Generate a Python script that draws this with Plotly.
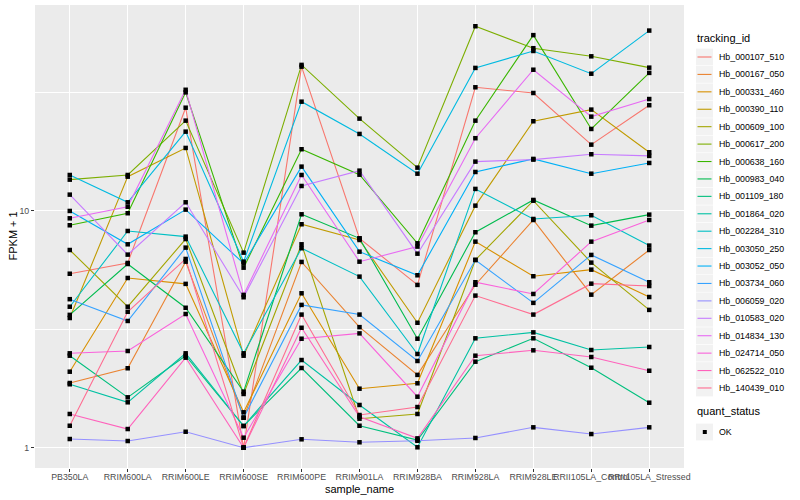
import plotly.graph_objects as go

# ---------------- data ----------------
samples = ["PB350LA", "RRIM600LA", "RRIM600LE", "RRIM600SE", "RRIM600PE",
           "RRIM901LA", "RRIM928BA", "RRIM928LA", "RRIM928LE",
           "RRII105LA_Control", "RRII105LA_Stressed"]

tracking_ids = ["Hb_000107_510", "Hb_000167_050", "Hb_000331_460", "Hb_000390_110",
                "Hb_000609_100", "Hb_000617_200", "Hb_000638_160", "Hb_000983_040",
                "Hb_001109_180", "Hb_001864_020", "Hb_002284_310", "Hb_003050_250",
                "Hb_003052_050", "Hb_003734_060", "Hb_006059_020", "Hb_010583_020",
                "Hb_014834_130", "Hb_024714_050", "Hb_062522_010", "Hb_140439_010"]

# FPKM + 1 per sample (order of `samples`)
hb_000107_510 = [5.43, 6.03, 27.3, 1.0, 40.7, 7.66, 4.87, 33.3, 31.5, 19.06, 27.97]
hb_000167_050 = [1.876, 2.165, 6.107, 1.339, 6.09, 3.23, 2.03, 4.88, 9.16, 4.43, 6.84]
hb_000331_460 = [2.094, 5.21, 4.92, 1.411, 4.49, 1.775, 1.871, 7.42, 5.30, 5.65, 4.33]
hb_000390_110 = [3.53, 13.96, 18.46, 2.447, 8.785, 7.54, 3.37, 10.53, 23.93, 26.8, 17.7]
hb_000609_100 = [6.84, 3.94, 7.61, 1.686, 7.23, 1.326, 1.388, 6.21, 11.05, 6.05, 3.82]
hb_000617_200 = [13.56, 14.19, 24.07, 6.666, 41.4, 24.55, 15.24, 60.3, 48.7, 45.0, 40.3]
hb_000638_160 = [8.70, 9.78, 31.7, 5.76, 18.23, 14.23, 7.30, 24.07, 55.3, 22.2, 38.3]
hb_000983_040 = [3.64, 5.97, 3.90, 1.724, 9.68, 7.66, 2.886, 8.13, 11.13, 8.67, 9.65]
hb_001109_180 = [2.447, 1.632, 2.447, 1.235, 2.171, 1.238, 1.077, 2.308, 2.898, 2.177, 1.549]
hb_001864_020 = [1.853, 1.555, 2.504, 1.235, 2.346, 1.515, 1.004, 2.898, 3.07, 2.586, 2.663]
hb_002284_310 = [3.94, 8.23, 7.79, 2.504, 6.96, 5.28, 2.488, 12.39, 9.25, 9.59, 7.14]
hb_003050_250 = [14.19, 10.88, 21.63, 6.107, 28.95, 21.15, 14.37, 40.2, 47.4, 38.0, 57.8]
hb_003052_050 = [10.0, 7.23, 10.13, 6.0, 15.39, 6.73, 5.35, 14.61, 16.59, 14.37, 15.95]
hb_003734_060 = [4.24, 3.43, 7.00, 1.339, 4.01, 3.65, 2.324, 6.21, 4.09, 6.52, 5.00]
hb_006059_020 = [1.088, 1.067, 1.168, 1.0, 1.085, 1.054, 1.070, 1.099, 1.219, 1.142, 1.219]
hb_010583_020 = [11.72, 6.54, 10.88, 4.32, 12.75, 14.80, 6.60, 16.16, 16.48, 17.36, 17.08]
hb_014834_130 = [9.31, 10.42, 32.5, 4.42, 14.19, 6.107, 7.07, 20.29, 39.5, 25.03, 29.7]
hb_024714_050 = [2.504, 2.561, 3.67, 1.102, 2.886, 3.04, 1.642, 5.00, 4.46, 7.42, 9.16]
hb_062522_010 = [1.388, 1.199, 2.40, 1.0, 3.21, 1.352, 1.095, 2.447, 2.578, 2.416, 2.114]
hb_140439_010 = [1.238, 3.75, 6.27, 1.0, 3.65, 1.374, 1.485, 4.39, 3.65, 4.93, 4.82]

quant_status = ["OK"]

y_tick_vals = [1, 10]
y_tick_text = ["1", "10"]
y_minor_vals = [3.1623, 31.623]

# ---------------- style ----------------
colors = ["#F8766D", "#EA8331", "#D89000", "#C09B00", "#A3A500", "#7CAE00", "#39B600",
          "#00BB4E", "#00BF7D", "#00C1A3", "#00BFC4", "#00BAE0", "#00B0F6", "#35A2FF",
          "#9590FF", "#C77CFF", "#E76BF3", "#FA62DB", "#FF62BC", "#FF6C91"]

series_values = [hb_000107_510, hb_000167_050, hb_000331_460, hb_000390_110,
                 hb_000609_100, hb_000617_200, hb_000638_160, hb_000983_040,
                 hb_001109_180, hb_001864_020, hb_002284_310, hb_003050_250,
                 hb_003052_050, hb_003734_060, hb_006059_020, hb_010583_020,
                 hb_014834_130, hb_024714_050, hb_062522_010, hb_140439_010]

FONT = "Liberation Sans, Arial, Helvetica, sans-serif"
W, H = 800, 500
PL, PR, PT, PB = 35, 684, 5, 468  # panel pixel box


def px(x):
    return (x - PL) / (PR - PL)


def py(y):
    return (PB - y) / (PB - PT)


fig = go.Figure()

for tid, vals, col in zip(tracking_ids, series_values, colors):
    fig.add_trace(go.Scatter(
        x=samples, y=vals, mode="lines", name=tid,
        line=dict(color=col, width=1.1), showlegend=False, hoverinfo="skip"))

all_x, all_y = [], []
for vals in series_values:
    all_x += samples
    all_y += vals
fig.add_trace(go.Scatter(
    x=all_x, y=all_y, mode="markers", name=quant_status[0],
    marker=dict(symbol="square", size=4.5, color="black", line=dict(width=0)),
    showlegend=False, hoverinfo="skip"))

shapes = []
annotations = []

# axis titles
annotations.append(dict(text="sample_name", xref="paper", yref="paper",
                        x=0.5, y=py(488.5), xanchor="center", yanchor="middle",
                        showarrow=False, font=dict(family=FONT, size=11, color="black")))
annotations.append(dict(text="FPKM + 1", xref="paper", yref="paper",
                        x=px(12), y=0.5, xanchor="center", yanchor="middle",
                        textangle=-90, showarrow=False,
                        font=dict(family=FONT, size=11, color="black")))

# legend: tracking_id
annotations.append(dict(text="tracking_id", xref="paper", yref="paper",
                        x=px(695), y=py(38), xanchor="left", yanchor="middle",
                        showarrow=False, font=dict(family=FONT, size=11, color="black")))
step = 17.42
for i, (tid, col) in enumerate(zip(tracking_ids, colors)):
    cy = 57 + i * step
    shapes.append(dict(type="rect", xref="paper", yref="paper",
                       x0=px(696), x1=px(713), y0=py(cy + 8.4), y1=py(cy - 8.4),
                       fillcolor="#F2F2F2", line=dict(width=0), layer="above"))
    shapes.append(dict(type="line", xref="paper", yref="paper",
                       x0=px(697.5), x1=px(711.5), y0=py(cy), y1=py(cy),
                       line=dict(color=col, width=1.1), layer="above"))
    annotations.append(dict(text=tid, xref="paper", yref="paper",
                            x=px(717), y=py(cy), xanchor="left", yanchor="middle",
                            showarrow=False,
                            font=dict(family=FONT, size=8.8, color="black")))

# legend: quant_status
annotations.append(dict(text="quant_status", xref="paper", yref="paper",
                        x=px(695), y=py(411), xanchor="left", yanchor="middle",
                        showarrow=False, font=dict(family=FONT, size=11, color="black")))
cy = 432
shapes.append(dict(type="rect", xref="paper", yref="paper",
                   x0=px(696), x1=px(713), y0=py(cy + 8.4), y1=py(cy - 8.4),
                   fillcolor="#F2F2F2", line=dict(width=0), layer="above"))
shapes.append(dict(type="rect", xref="paper", yref="paper",
                   x0=px(702.8), x1=px(706.8), y0=py(cy + 2), y1=py(cy - 2),
                   fillcolor="black", line=dict(width=0), layer="above"))
annotations.append(dict(text=quant_status[0], xref="paper", yref="paper",
                        x=px(717), y=py(cy), xanchor="left", yanchor="middle",
                        showarrow=False, font=dict(family=FONT, size=8.8, color="black")))

fig.update_layout(
    width=W, height=H,
    margin=dict(l=PL, r=W - PR, t=PT, b=H - PB, pad=0),
    paper_bgcolor="white", plot_bgcolor="#EBEBEB",
    font=dict(family=FONT, size=8.8, color="#4D4D4D"),
    showlegend=False,
    shapes=shapes, annotations=annotations,
    xaxis=dict(type="category", categoryorder="array", categoryarray=samples,
               range=[-0.6, len(samples) - 0.4],
               showgrid=True, gridcolor="white", gridwidth=1.1,
               ticks="outside", ticklen=3, tickwidth=1, tickcolor="#333333",
               ticklabelstandoff=-3,
               tickfont=dict(family=FONT, size=8.8, color="#4D4D4D"),
               showline=False, zeroline=False, automargin=False, tickangle=0),
    yaxis=dict(type="log", range=[-0.0858, 1.870],
               tickvals=y_tick_vals, ticktext=y_tick_text,
               showgrid=True, gridcolor="white", gridwidth=1.1,
               minor=dict(tickvals=y_minor_vals, showgrid=True,
                          gridcolor="white", gridwidth=0.55, ticks=""),
               ticks="outside", ticklen=3, tickwidth=1, tickcolor="#333333",
               tickfont=dict(family=FONT, size=8.8, color="#4D4D4D"),
               showline=False, zeroline=False, automargin=False),
)

fig.write_html("out.html",
               config={"displayModeBar": False},
               post_script="document.body.style.margin='0px';"
                           "document.body.style.padding='0px';")
